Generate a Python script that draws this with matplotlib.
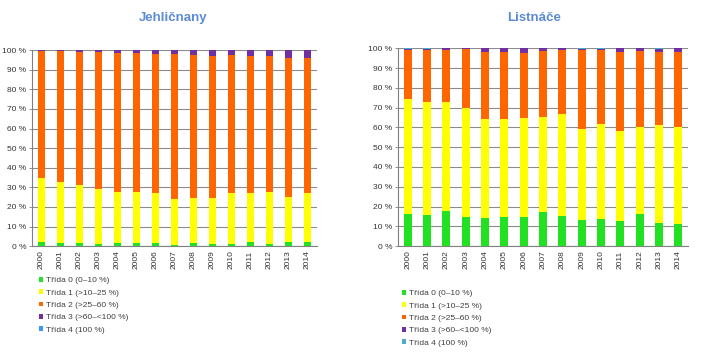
import numpy as np
import matplotlib
matplotlib.use("Agg")
import matplotlib.pyplot as plt

plt.rcParams['font.family'] = ['Liberation Sans', 'DejaVu Sans']

roky = [str(r) for r in range(2000, 2015)]
tridy = ["Třída 0 (0–10 %)", "Třída 1 (>10–25 %)", "Třída 2 (>25–60 %)",
         "Třída 3 (>60–<100 %)", "Třída 4 (100 %)"]

# Jehličnany - kumulativní hranice (%)
jeh_t0 = [1.9, 1.5, 1.5, 1.2, 1.5, 1.5, 1.5, 0.7, 1.5, 1.2, 1.2, 2.0, 1.2, 2.2, 2.2]
jeh_t01 = [34.9, 32.5, 31.2, 29.0, 27.6, 27.6, 27.0, 23.9, 24.4, 24.4, 27.0, 27.0, 27.6, 25.3, 27.0]
jeh_t012 = [99.3, 99.3, 99.2, 99.2, 98.6, 98.6, 98.0, 98.0, 97.5, 96.9, 97.5, 96.9, 96.9, 95.9, 96.1]
jeh_t4 = [0.0, 0.0, 0.0, 0.0, 0.0, 0.0, 0.0, 0.0, 0.0, 0.0, 0.1, 0.0, 0.0, 0.0, 0.0]

# Listnáče
lis_t0 = [16.0, 15.8, 17.5, 14.5, 14.2, 14.5, 14.7, 17.0, 15.0, 13.0, 13.8, 12.7, 16.2, 11.7, 11.0]
lis_t01 = [74.2, 72.7, 72.9, 69.8, 64.2, 64.1, 64.7, 65.1, 66.8, 59.0, 61.7, 58.3, 60.3, 61.2, 60.3]
lis_t012 = [99.2, 99.0, 99.0, 99.5, 98.3, 98.1, 97.8, 98.5, 99.3, 99.2, 99.3, 98.3, 98.6, 98.3, 98.1]
lis_t4 = [0.3, 0.3, 0.0, 0.0, 0.0, 0.0, 0.0, 0.0, 0.0, 0.5, 0.2, 0.0, 0.0, 0.4, 0.0]

barvy_l = ['#22E022', '#FFFF00', '#FF6600', '#7030A0', '#3399FF']
barvy_p = ['#22E022', '#FFFF00', '#FF6600', '#7030A0', '#4BACC6']


def podily(t0, t01, t012, t4):
    t0 = np.array(t0); t01 = np.array(t01); t012 = np.array(t012); t4 = np.array(t4)
    return [t0, t01 - t0, t012 - t01, 100 - t012 - t4, t4]


def graf(ax, nazev, casti, barvy, sirka, leg_pos, title_pos):
    x = np.arange(len(roky))
    spodek = np.zeros(len(roky))
    handles = []
    for c, b, lab in zip(casti, barvy, tridy):
        h = ax.bar(x, c, sirka, bottom=spodek, color=b, label=lab, zorder=3)
        handles.append(h)
        spodek += c
    ax.set_xlim(-0.5, len(roky) - 0.5)
    ax.set_ylim(0, 100)
    ax.set_yticks(range(0, 101, 10))
    ax.set_yticklabels([f"{v} %" for v in range(0, 101, 10)], fontsize=6)
    ax.set_xticks(x)
    ax.set_xticklabels(roky, rotation=90, fontsize=6, color='#333333')
    ax.tick_params(axis='y', length=2, width=0.6, color='#808080', pad=2, labelcolor='#333333')
    ax.tick_params(axis='x', length=0, pad=3)
    ax.yaxis.grid(True, color='#8c8c8c', linewidth=0.8, zorder=0)
    for s in ['top', 'right']:
        ax.spines[s].set_visible(False)
    for s in ['left', 'bottom']:
        ax.spines[s].set_color('#808080')
        ax.spines[s].set_linewidth(0.8)
    fig.text(title_pos[0], title_pos[1], nazev, ha='center', va='center',
             fontsize=9.5, fontweight='bold', color='#5B8BD3')
    leg = ax.legend(handles=handles, loc='upper left', bbox_to_anchor=leg_pos,
                    bbox_transform=fig.transFigure, frameon=False, fontsize=6,
                    handlelength=0.5, handleheight=0.5, handletextpad=0.35,
                    labelspacing=0.6, borderaxespad=0, borderpad=0)
    for t in leg.get_texts():
        t.set_color('#404040')


fig = plt.figure(figsize=(7.02, 3.63), dpi=100)
ax1 = fig.add_axes([0.0456, 0.322, 0.406, 0.540])
ax2 = fig.add_axes([0.567, 0.322, 0.413, 0.545])

graf(ax1, "Jehličnany", podily(jeh_t0, jeh_t01, jeh_t012, jeh_t4), barvy_l, 0.38,
     (0.055, 1 - 277 / 363), (173 / 702, 1 - 18 / 363))
graf(ax2, "Listnáče", podily(lis_t0, lis_t01, lis_t012, lis_t4), barvy_p, 0.41,
     (0.572, 1 - 290 / 363), (534 / 702, 1 - 18 / 363))

fig.savefig("out.png", dpi=100)
